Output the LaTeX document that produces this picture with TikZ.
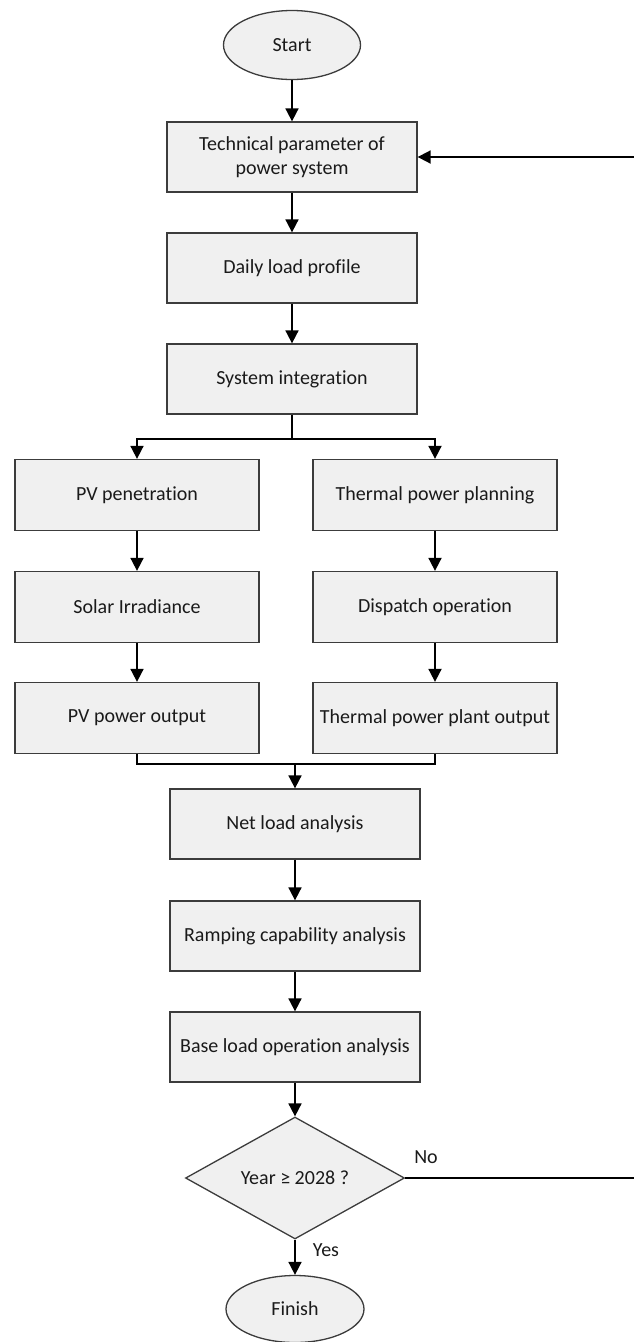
\documentclass[tikz,border=0pt]{standalone}
\usepackage{fontspec}
\setmainfont[Ligatures={CommonOff}]{Carlito}
\usetikzlibrary{shapes.geometric,arrows.meta}
\definecolor{boxfill}{HTML}{F0F0F0}
\definecolor{boxline}{HTML}{3C3C3C}
\definecolor{txt}{HTML}{1A1A1A}
\tikzset{
  base/.style={draw=boxline, line width=1.3pt, fill=boxfill, text=txt, inner sep=0pt, font=\fontsize{20}{24}\selectfont, align=center},
  cbox/.style={base, rectangle, minimum width=250pt, minimum height=70pt},
  sbox/.style={base, rectangle, minimum width=244pt, minimum height=71pt},
  term/.style={base, ellipse, minimum width=137pt, minimum height=69pt},
  decide/.style={base, diamond, minimum width=219pt, minimum height=109pt},
  arr/.style={line width=1.8pt, -{Triangle[length=13pt,width=13pt]}},
  ln/.style={line width=1.8pt},
  lbl/.style={text=txt, font=\fontsize{20}{24}\selectfont, inner sep=0pt}
}
\begin{document}
\begin{tikzpicture}[x=1pt,y=-1pt]
\useasboundingbox (0,0) rectangle (634,1342);
\node[term] (start) at (292,45) {Start};
\node[cbox] (tech) at (292,157) {Technical parameter of\\power system};
\node[cbox] (daily) at (292,268) {Daily load profile};
\node[cbox] (sys) at (292,379) {System integration};
\node[sbox] (pvp) at (137,495) {PV penetration};
\node[sbox] (sol) at (137,607) {Solar Irradiance};
\node[sbox] (pvo) at (137,718) {PV power output};
\node[sbox] (thp) at (435,495) {Thermal power planning};
\node[sbox] (dis) at (435,607) {Dispatch operation};
\node[sbox] (tho) at (435,718) {Thermal power plant output};
\node[cbox] (net) at (295,824) {Net load analysis};
\node[cbox] (ramp) at (295,936) {Ramping capability analysis};
\node[cbox] (bas) at (295,1047) {Base load operation analysis};
\node[decide] (dec) at (295,1178) {Year ≥ 2028 ?};
\node[term, minimum width=138pt, minimum height=67pt] (fin) at (295,1309) {Finish};
\node[lbl] (no) at (426,1157) {No};
\node[lbl] (yes) at (326,1250) {Yes};
\coordinate (split) at (292,439);
\coordinate (merge) at (295,764);
\coordinate (noR) at (634,1178);
\coordinate (topR) at (634,157);

\draw[arr] (start) -- (tech);
\draw[arr] (tech) -- (daily);
\draw[arr] (daily) -- (sys);
\draw[ln] (sys.south) -- (split);
\draw[arr] (split) -| (pvp.north);
\draw[arr] (split) -| (thp.north);
\draw[arr] (pvp) -- (sol);
\draw[arr] (sol) -- (pvo);
\draw[arr] (thp) -- (dis);
\draw[arr] (dis) -- (tho);
\draw[ln] (pvo.south) |- (merge) -| (tho.south);
\draw[arr] (merge) -- (net.north);
\draw[arr] (net) -- (ramp);
\draw[arr] (ramp) -- (bas);
\draw[arr] (bas) -- (dec);
\draw[arr] (dec) -- (fin);
\draw[ln] (dec.east) -- (noR);
\draw[arr] (topR) -- (tech.east);
\end{tikzpicture}
\end{document}
